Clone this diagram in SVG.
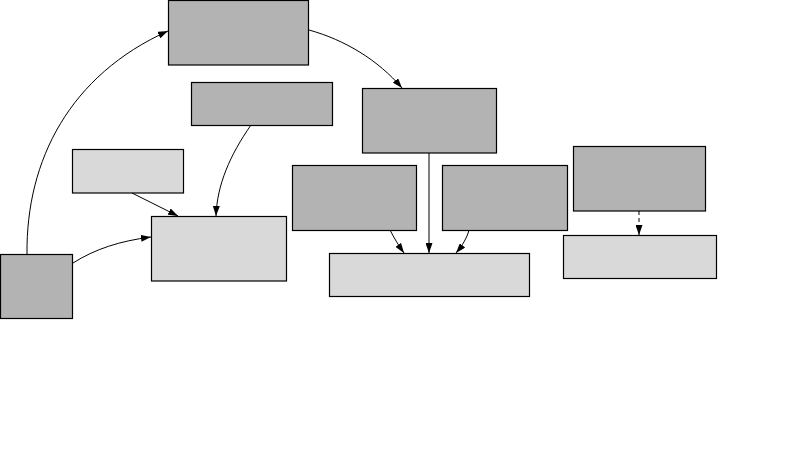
<svg xmlns="http://www.w3.org/2000/svg" width="791" height="475" viewBox="0 0 791 475">
<style>
.n rect{stroke:#000;stroke-width:1.2}
.d rect{fill:#b3b3b3}
.l rect{fill:#d9d9d9}
#edges path{fill:none;stroke:#000;stroke-width:1;marker-end:url(#ah)}
#edges .dash{stroke-dasharray:4,3}
</style>
<defs>
<marker id="ah" viewBox="0 0 10 7" refX="10" refY="3.5" markerWidth="10" markerHeight="7" markerUnits="userSpaceOnUse" orient="auto">
<path d="M0,0 L10,3.5 L0,7 Z" fill="#000"/>
</marker>
</defs>
<rect width="791" height="475" fill="#fff"/>
<g id="nA" class="n d"><rect x="168.5" y="0.5" width="140" height="64.5"/></g>
<g id="nB" class="n d"><rect x="191.5" y="82.5" width="141" height="43"/></g>
<g id="nC" class="n l"><rect x="72.5" y="149.5" width="111" height="43.5"/></g>
<g id="nD" class="n l"><rect x="151.5" y="216.5" width="135" height="64.5"/></g>
<g id="nE" class="n d"><rect x="0.5" y="254.5" width="72" height="64"/></g>
<g id="nF" class="n d"><rect x="362.5" y="88.5" width="134" height="64.5"/></g>
<g id="nG" class="n d"><rect x="292.5" y="165.5" width="124" height="65"/></g>
<g id="nH" class="n d"><rect x="442.5" y="165.5" width="125" height="65"/></g>
<g id="nI" class="n l"><rect x="329.5" y="253.5" width="200" height="43"/></g>
<g id="nJ" class="n d"><rect x="573.5" y="146.5" width="132" height="64.5"/></g>
<g id="nK" class="n l"><rect x="563.5" y="235.5" width="153" height="43"/></g>
<g id="edges">
<path d="M27,254 C26,160 70,75 168,31"/>
<path d="M73,263 C95,249 120,241 151,237"/>
<path d="M132,193 L178,216"/>
<path d="M251,125 C230,155 217,185 216,216"/>
<path d="M309,30 C345,40 378,60 402,88"/>
<path d="M429,153 L429,253"/>
<path d="M390,230 C394,238 399,246 404,253"/>
<path d="M469,230 C467,238 462,246 456,253"/>
<path class="dash" d="M639,211 L639,235"/>
</g>
</svg>
